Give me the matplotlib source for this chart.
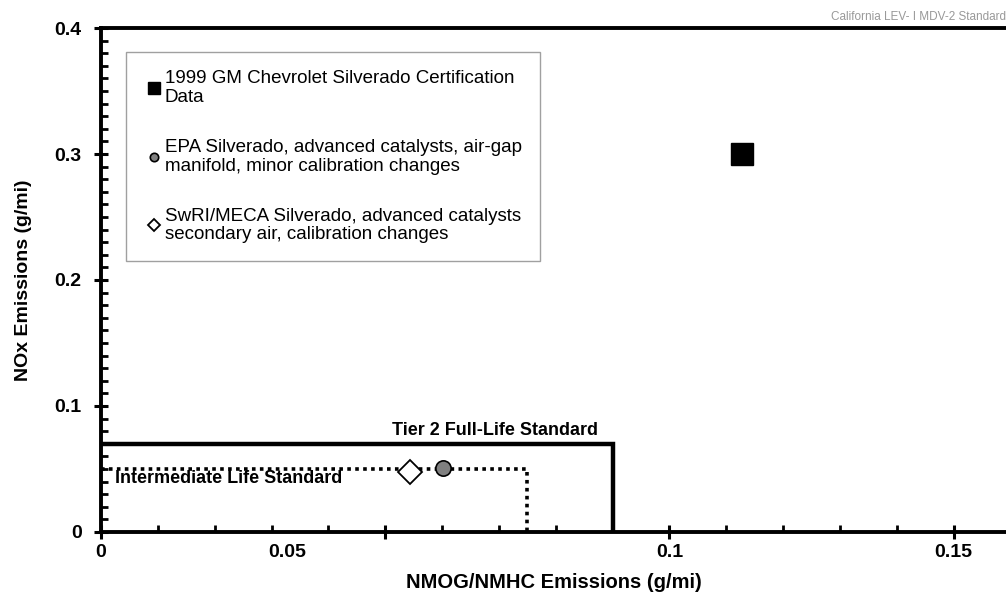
import matplotlib
matplotlib.use('Agg')
import matplotlib.pyplot as plt
import matplotlib.transforms as mtransforms

plt.rcParams['font.family'] = ['Liberation Sans', 'DejaVu Sans']

# data points (NMOG/NMHC, NOx) in g/mi
gm_x, gm_y = [0.1127], [0.30]
epa_x, epa_y = [0.0602], [0.051]
swri_x, swri_y = [0.0544], [0.048]

# standards (NMOG limit, NOx limit)
tier2_nmog, tier2_nox = 0.09, 0.07
inter_nmog, inter_nox = 0.075, 0.05

labels = ["1999 GM Chevrolet Silverado Certification\nData",
          "EPA Silverado, advanced catalysts, air-gap\nmanifold, minor calibration changes",
          "SwRI/MECA Silverado, advanced catalysts\nsecondary air, calibration changes"]

xticks = [0, 0.05, 0.1, 0.15]
xtick_labels = ["0", "0.05", "0.1", "0.15"]
yticks = [0, 0.1, 0.2, 0.3, 0.4]
ytick_labels = ["0", "0.1", "0.2", "0.3", "0.4"]

fig = plt.figure(figsize=(10.06, 6.05), dpi=100)
ax = fig.add_axes([0.1004, 0.1207, 0.9, 0.833])
ax.set_xlim(0, 0.1593)
ax.set_ylim(0, 0.4)

# standards boxes
ax.plot([0, tier2_nmog, tier2_nmog], [tier2_nox, tier2_nox, 0], color='black', lw=3.2,
        solid_joinstyle='miter', zorder=3)
ax.plot([0, inter_nmog, inter_nmog], [inter_nox, inter_nox, 0], color='black', lw=2.6,
        linestyle=(0, (1, 1.2)), zorder=3)
ax.text(0.0694, 0.0735, "Tier 2 Full-Life Standard", fontsize=13, fontweight='bold',
        ha='center', va='bottom')
ax.text(0.0024, 0.0425, "Intermediate Life Standard", fontsize=13, fontweight='bold',
        ha='left', va='center')

# data
ax.plot(gm_x, gm_y, 's', color='black', ms=16, zorder=5, label=labels[0])
ax.plot(epa_x, epa_y, 'o', mfc='#808080', mec='black', mew=1.2, ms=11, zorder=5, label=labels[1])
ax.plot(swri_x, swri_y, 'D', mfc='white', mec='black', mew=1.3, ms=12, zorder=5, label=labels[2])

# California standard line at top
ax.text(0.1593, 0.404, "California LEV- I MDV-2 Standard", fontsize=8.5, color='#999999',
        ha='right', va='bottom', clip_on=False)

# spines
for s in ['left', 'bottom', 'top']:
    ax.spines[s].set_linewidth(2.8)
ax.spines['right'].set_visible(False)

ax.set_xticks(xticks)
ax.set_xticklabels(xtick_labels, fontsize=14, fontweight='bold')
ax.set_yticks(yticks)
ax.set_yticklabels(ytick_labels, fontsize=14, fontweight='bold')
ax.set_xticks([0.01 * i for i in range(16) if i % 5 != 0], minor=True)
ax.set_yticks([0.01 * i for i in range(40) if i % 10 != 0], minor=True)
ax.tick_params(axis='x', which='major', direction='inout', length=10, width=2.2, pad=4)
ax.tick_params(axis='y', which='major', direction='inout', length=10, width=2.2, pad=9)
ax.tick_params(which='minor', direction='in', length=5, width=2)

# the 0.05 label sits left of its tick in the original
lbl = ax.get_xticklabels()[1]
lbl.set_transform(lbl.get_transform() + mtransforms.ScaledTranslation(-0.98, 0, fig.dpi_scale_trans))

ax.set_xlabel("NMOG/NMHC Emissions (g/mi)", fontsize=14.5, fontweight='bold', labelpad=8)
ax.set_ylabel("NOx Emissions (g/mi)", fontsize=14, fontweight='bold', labelpad=16)

leg = ax.legend(loc='upper left', bbox_to_anchor=(0.028, 0.952), fontsize=13.5,
                frameon=True, fancybox=False, handletextpad=0.1, labelspacing=1.75,
                borderpad=0.95, handlelength=1.0, markerscale=0.55, borderaxespad=0)
leg.get_frame().set_edgecolor('#888888')
leg.get_frame().set_linewidth(1.0)
for t in leg.get_texts():
    t.set_linespacing(1.15)

fig.savefig('out.png', dpi=100)
